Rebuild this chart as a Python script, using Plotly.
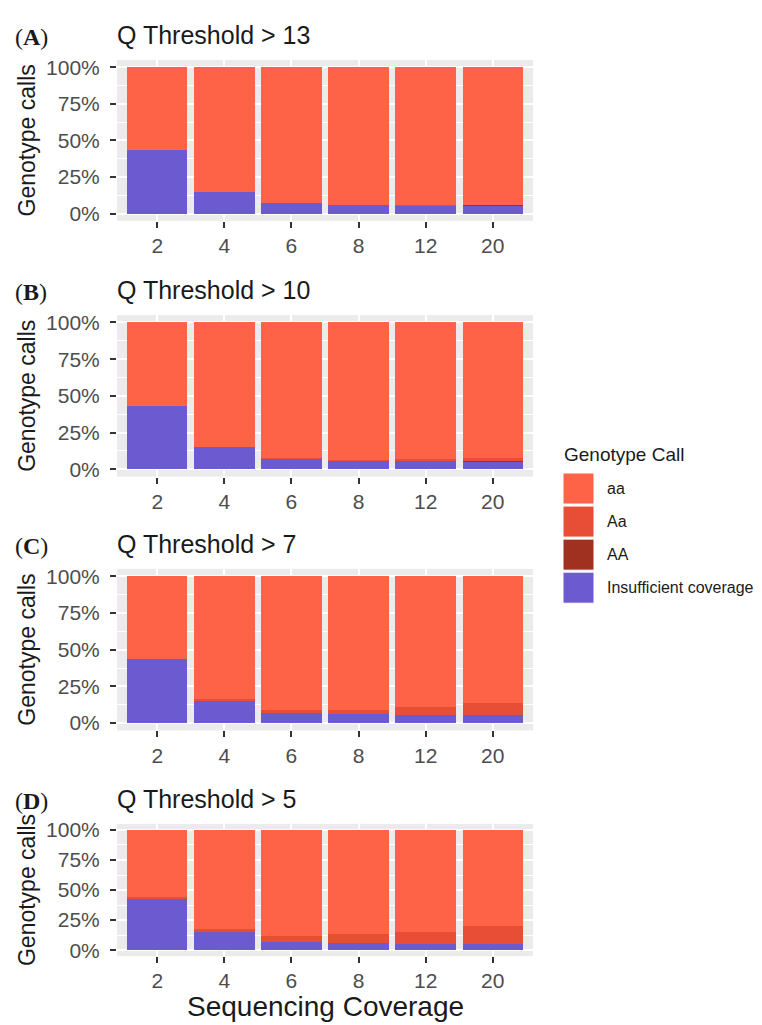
import plotly.graph_objects as go

# ---------------- data ----------------
coverage = ["2", "4", "6", "8", "12", "20"]
panel_letters = ["A", "B", "C", "D"]
q_thresholds = [13, 10, 7, 5]

# percent of genotype calls (bottom -> top: Insufficient, AA, Aa, aa)
insufficient_pct = [43.4, 15.0, 7.1, 6.0, 5.3, 5.3]

AA_q13 = [0.0, 0.0, 0.0, 0.0, 0.5, 0.6]
Aa_q13 = [0.0, 0.0, 0.0, 0.0, 0.2, 0.2]
AA_q10 = [0.0, 0.0, 0.0, 0.0, 0.0, 0.6]
Aa_q10 = [0.0, 0.0, 0.7, 0.5, 1.8, 1.8]
AA_q7 = [0.0, 0.0, 0.0, 0.0, 0.0, 0.0]
Aa_q7 = [0.0, 1.6, 2.0, 2.7, 5.5, 8.2]
AA_q5 = [0.0, 0.0, 0.0, 0.0, 0.0, 0.0]
Aa_q5 = [1.1, 2.8, 5.0, 7.2, 9.7, 14.4]

AA_by_panel = [AA_q13, AA_q10, AA_q7, AA_q5]
Aa_by_panel = [Aa_q13, Aa_q10, Aa_q7, Aa_q5]

categories = ["aa", "Aa", "AA", "Insufficient coverage"]
colors = {"aa": "#FF6347", "Aa": "#E84D35", "AA": "#A0301F",
          "Insufficient coverage": "#6C5AD0"}

# ---------------- layout helpers ----------------
W, H = 762, 1025
FONT = "Liberation Sans, Arial, sans-serif"


def px(x):
    return x / W


def py(y):
    # small empirical correction for the capture's vertical mapping
    y = (y - 6.85) / 0.9875
    return 1 - y / H


x_left, x_right = 117, 533
panel_px = [(60.7, 221.3), (315.4, 476.6), (568.7, 730.0), (823.3, 955.3)]

fig = go.Figure()

for i in range(4):
    ins = insufficient_pct
    AA = AA_by_panel[i]
    Aa = Aa_by_panel[i]
    aa = [round(100 - a - b - c, 2) for a, b, c in zip(ins, AA, Aa)]
    xa = "x" if i == 0 else f"x{i+1}"
    ya = "y" if i == 0 else f"y{i+1}"
    for name, vals in [("Insufficient coverage", ins), ("AA", AA),
                       ("Aa", Aa), ("aa", aa)]:
        fig.add_trace(go.Bar(x=coverage, y=vals, name=name, width=0.9,
                             marker=dict(color=colors[name], line=dict(width=0)),
                             xaxis=xa, yaxis=ya, showlegend=False))

layout = dict(
    width=W, height=H, margin=dict(l=0, r=0, t=0, b=0),
    paper_bgcolor="white", plot_bgcolor="#EBEBEB", barmode="stack",
    bargap=0.1, showlegend=False,
    font=dict(family=FONT),
)

for i, (top, bot) in enumerate(panel_px):
    xk = "xaxis" if i == 0 else f"xaxis{i+1}"
    yk = "yaxis" if i == 0 else f"yaxis{i+1}"
    ya = "y" if i == 0 else f"y{i+1}"
    xa = "x" if i == 0 else f"x{i+1}"
    layout[xk] = dict(
        domain=[px(x_left), px(x_right)], anchor=ya,
        type="category", categoryorder="array", categoryarray=coverage,
        range=[-0.6, 5.6], showgrid=True, gridcolor="white", gridwidth=2,
        zeroline=False, showline=False,
        ticks="outside", ticklen=6, tickwidth=2, tickcolor="#333333",
        tickfont=dict(size=21, color="#4D4D4D", family=FONT),
        ticklabelstandoff=0,
    )
    layout[yk] = dict(
        domain=[py(bot), py(top)], anchor=xa,
        range=[-5, 105], tickmode="array",
        tickvals=[0, 25, 50, 75, 100],
        ticktext=["0%", "25%", "50%", "75%", "100%"],
        showgrid=True, gridcolor="white", gridwidth=2,
        minor=dict(tickmode="array", tickvals=[12.5, 37.5, 62.5, 87.5],
                   showgrid=True, gridcolor="white", gridwidth=1, ticks=""),
        zeroline=False, showline=False,
        ticks="outside", ticklen=6, tickwidth=2, tickcolor="#333333",
        tickfont=dict(size=21, color="#4D4D4D", family=FONT),
        ticklabelstandoff=6,
    )

fig.update_layout(**layout)

annotations = []
shapes = []
for i, (top, bot) in enumerate(panel_px):
    # panel letter
    annotations.append(dict(
        text=f"(<b>{panel_letters[i]}</b>)", xref="paper", yref="paper",
        x=px(13), y=py(top - 23), xanchor="left", yanchor="middle",
        showarrow=False, font=dict(size=24, color="#1a1a1a",
                                   family="Liberation Serif, DejaVu Serif, serif")))
    # panel title
    annotations.append(dict(
        text=f"Q Threshold &gt; {q_thresholds[i]}", xref="paper", yref="paper",
        x=px(x_left - 2), y=py(top - 25), xanchor="left", yanchor="middle",
        showarrow=False, font=dict(size=25, color="#1a1a1a", family=FONT)))
    # y axis title
    annotations.append(dict(
        text="Genotype calls", xref="paper", yref="paper",
        x=px(27), y=py((top + bot) / 2), xanchor="center", yanchor="middle",
        textangle=-90, showarrow=False,
        font=dict(size=23, color="#1a1a1a", family=FONT)))

# x axis title
annotations.append(dict(
    text="Sequencing Coverage", xref="paper", yref="paper",
    x=px((x_left + x_right) / 2), y=py(1006), xanchor="center", yanchor="middle",
    showarrow=False, font=dict(size=28, color="#1a1a1a", family=FONT)))

# legend (drawn manually)
annotations.append(dict(
    text="Genotype Call", xref="paper", yref="paper",
    x=px(562), y=py(455), xanchor="left", yanchor="middle",
    showarrow=False, font=dict(size=19, color="#1a1a1a", family=FONT)))
key_top = 473
key_size = 31
key_step = 33
for k, name in enumerate(categories):
    y0 = key_top + k * key_step
    shapes.append(dict(type="rect", xref="paper", yref="paper",
                       x0=px(563), x1=px(563 + key_size),
                       y0=py(y0 + key_size), y1=py(y0),
                       fillcolor=colors[name], line=dict(color="white", width=1)))
    annotations.append(dict(
        text=name, xref="paper", yref="paper",
        x=px(605), y=py(y0 + key_size / 2), xanchor="left", yanchor="middle",
        showarrow=False, font=dict(size=16, color="#1a1a1a", family=FONT)))

fig.update_layout(annotations=annotations, shapes=shapes)
fig.write_html("out.html", config={"displayModeBar": False},
               post_script="document.body.style.margin='0';"
                           "document.body.style.overflow='hidden';")
